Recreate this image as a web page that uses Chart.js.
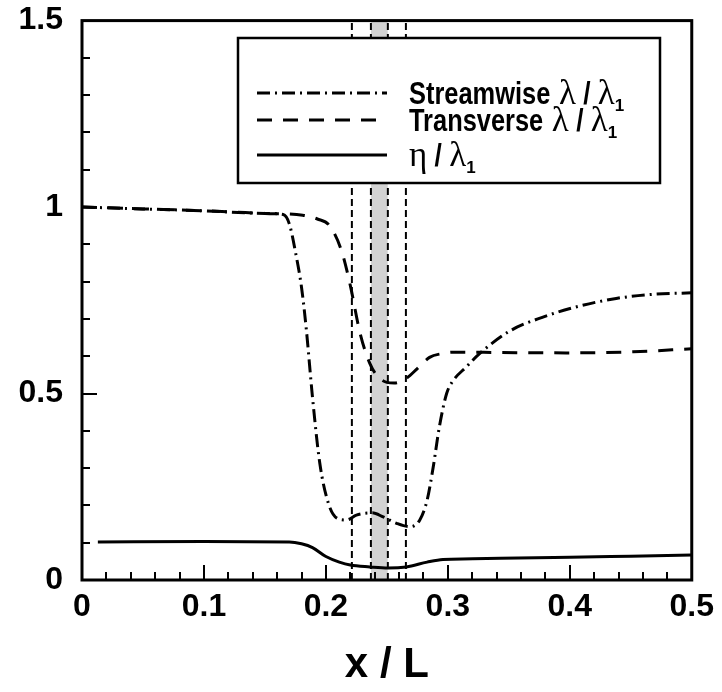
<!DOCTYPE html>
<html>
<head>
<meta charset="utf-8">
<script src="https://cdn.jsdelivr.net/npm/chart.js@4.4.0/dist/chart.umd.min.js"></script>
<style>
  body { margin: 0; background: #fff; }
  #wrap { width: 722px; height: 692px; position: relative; }
</style>
</head>
<body>
<div id="wrap"><canvas id="chart"></canvas></div>
<script>
// streamwise lambda / lambda1 (dash-dot)
const streamX = [0, 0.05, 0.1, 0.15, 0.165, 0.170, 0.175, 0.180, 0.184, 0.189, 0.195, 0.202, 0.209, 0.217, 0.225, 0.238, 0.247, 0.258, 0.269, 0.277, 0.283, 0.288, 0.293, 0.299, 0.304, 0.315, 0.326, 0.351, 0.378, 0.405, 0.438, 0.468, 0.5];
const streamY = [1.0, 0.995, 0.99, 0.983, 0.980, 0.955, 0.88, 0.785, 0.67, 0.49, 0.313, 0.206, 0.166, 0.161, 0.174, 0.180, 0.169, 0.152, 0.143, 0.161, 0.214, 0.303, 0.410, 0.500, 0.533, 0.571, 0.607, 0.668, 0.705, 0.732, 0.755, 0.766, 0.770];

// transverse lambda / lambda1 (dashed)
const transX = [0, 0.05, 0.1, 0.15, 0.181, 0.193, 0.203, 0.213, 0.220, 0.228, 0.236, 0.243, 0.250, 0.256, 0.266, 0.275, 0.285, 0.295, 0.304, 0.343, 0.397, 0.452, 0.5];
const transY = [1.0, 0.995, 0.99, 0.983, 0.978, 0.968, 0.950, 0.881, 0.790, 0.662, 0.581, 0.544, 0.530, 0.528, 0.541, 0.567, 0.597, 0.607, 0.611, 0.610, 0.609, 0.612, 0.620];

// eta / lambda1 (solid)
const etaX = [0.013, 0.1, 0.17, 0.18, 0.189, 0.2, 0.211, 0.22, 0.236, 0.251, 0.266, 0.283, 0.296, 0.343, 0.4, 0.45, 0.5];
const etaY = [0.102, 0.103, 0.102, 0.097, 0.087, 0.063, 0.048, 0.040, 0.035, 0.032, 0.035, 0.048, 0.055, 0.058, 0.061, 0.064, 0.067];

// vertical markers and shaded band
const markerX = [0.2213, 0.2369, 0.2508, 0.2656];
const shadeX = [0.2369, 0.2508];

const xTickVals = [0, 0.1, 0.2, 0.3, 0.4, 0.5];
const xTickLabels = ['0', '0.1', '0.2', '0.3', '0.4', '0.5'];
const yTickVals = [0, 0.5, 1, 1.5];
const yTickLabels = ['0', '0.5', '1', '1.5'];

const toPts = (xs, ys) => xs.map((x, i) => ({x: x, y: ys[i]}));

const SANS = '"Liberation Sans", Arial, sans-serif';
const SERIF = '"Liberation Serif", "Times New Roman", serif';
Chart.defaults.font.family = SANS;
Chart.defaults.color = '#000';

const DASHDOT = [13, 5, 2, 5];
const DASH = [15, 11];

const legendRows = [
  {dash: DASHDOT, y: 93, parts: [
    {t: 'Streamwise', f: 'bold 31px ' + SANS, sx: 0.82},
    {t: ' ', f: 'bold 31px ' + SANS},
    {t: '\u03bb', f: '35px ' + SERIF},
    {t: ' / ', f: 'bold 31px ' + SANS, sx: 0.85},
    {t: '\u03bb', f: '35px ' + SERIF},
    {t: '1', f: 'bold 17px ' + SANS, dy: 7}
  ]},
  {dash: DASH, y: 120, parts: [
    {t: 'Transverse', f: 'bold 31px ' + SANS, sx: 0.82},
    {t: ' ', f: 'bold 31px ' + SANS},
    {t: '\u03bb', f: '35px ' + SERIF},
    {t: ' / ', f: 'bold 31px ' + SANS, sx: 0.85},
    {t: '\u03bb', f: '35px ' + SERIF},
    {t: '1', f: 'bold 17px ' + SANS, dy: 7}
  ]},
  {dash: [], y: 155, parts: [
    {t: '\u03b7', f: '35px ' + SERIF},
    {t: ' / ', f: 'bold 31px ' + SANS, sx: 0.85},
    {t: '\u03bb', f: '35px ' + SERIF},
    {t: '1', f: 'bold 17px ' + SANS, dy: 7}
  ]}
];

const framePlugin = {
  id: 'frame',
  afterDatasetsDraw(chart) {
    const {ctx, chartArea: a, scales: {x, y}} = chart;
    ctx.save();
    ctx.strokeStyle = '#000';
    ctx.lineWidth = 2;
    ctx.setLineDash([]);
    // x ticks, minor every 0.02
    for (let i = 0; i <= 25; i++) {
      const px = Math.round(x.getPixelForValue(i * 0.02));
      const len = i % 5 === 0 ? 15 : 8;
      ctx.beginPath();
      ctx.moveTo(px, a.bottom);
      ctx.lineTo(px, a.bottom - len);
      ctx.stroke();
    }
    // y ticks, minor every 0.1
    for (let i = 0; i <= 15; i++) {
      const py = Math.round(y.getPixelForValue(i * 0.1));
      const len = i % 5 === 0 ? 15 : 8;
      ctx.beginPath();
      ctx.moveTo(a.left, py);
      ctx.lineTo(a.left + len, py);
      ctx.stroke();
    }
    ctx.lineWidth = 3;
    ctx.strokeRect(a.left, a.top, a.right - a.left, a.bottom - a.top);

    // legend box
    const bx = 238, by = 38, bw = 422, bh = 145;
    ctx.fillStyle = '#fff';
    ctx.fillRect(bx, by, bw, bh);
    ctx.lineWidth = 2.5;
    ctx.strokeRect(bx, by, bw, bh);
    legendRows.forEach(row => {
      ctx.lineWidth = 3;
      ctx.setLineDash(row.dash);
      ctx.beginPath();
      ctx.moveTo(257, row.y);
      ctx.lineTo(387, row.y);
      ctx.stroke();
      ctx.setLineDash([]);
      let cx = 409;
      ctx.fillStyle = '#000';
      ctx.textBaseline = 'alphabetic';
      row.parts.forEach(p => {
        ctx.font = p.f;
        const sx = p.sx || 1;
        const w = ctx.measureText(p.t).width * sx;
        ctx.save();
        ctx.translate(cx, row.y + 11 + (p.dy || 0));
        ctx.scale(sx, 1);
        ctx.fillText(p.t, 0, 0);
        ctx.restore();
        cx += w;
      });
    });
    ctx.restore();
  }
};

const datasets = [
  {
    label: 'Streamwise',
    data: toPts(streamX, streamY),
    borderColor: '#000', borderWidth: 3, borderDash: DASHDOT,
    pointRadius: 0, fill: false, cubicInterpolationMode: 'monotone'
  },
  {
    label: 'Transverse',
    data: toPts(transX, transY),
    borderColor: '#000', borderWidth: 3, borderDash: DASH,
    pointRadius: 0, fill: false, cubicInterpolationMode: 'monotone'
  },
  {
    label: 'eta',
    data: toPts(etaX, etaY),
    borderColor: '#000', borderWidth: 3,
    pointRadius: 0, fill: false, cubicInterpolationMode: 'monotone'
  }
];
markerX.forEach(mx => {
  datasets.push({
    label: 'marker',
    data: [{x: mx, y: 0}, {x: mx, y: 1.5}],
    borderColor: '#000', borderWidth: 2, borderDash: [7, 4],
    pointRadius: 0, fill: false
  });
});
datasets.push({
  label: 'band',
  data: [{x: shadeX[0], y: 1.5}, {x: shadeX[1], y: 1.5}],
  borderWidth: 0, borderColor: 'rgba(0,0,0,0)',
  backgroundColor: '#d3d3d3', pointRadius: 0, fill: 'origin'
});

new Chart(document.getElementById('chart'), {
  type: 'line',
  data: {datasets: datasets},
  options: {
    responsive: true,
    maintainAspectRatio: false,
    animation: false,
    layout: {padding: {left: 0, right: 30, top: 20, bottom: 0}},
    plugins: {legend: {display: false}, tooltip: {enabled: false}},
    scales: {
      x: {
        type: 'linear', min: 0, max: 0.5,
        afterFit: s => { s.height = 112; },
        afterBuildTicks: s => { s.ticks = xTickVals.map(v => ({value: v})); },
        grid: {display: false, drawTicks: false},
        border: {display: false},
        ticks: {
          padding: 8, maxRotation: 0, autoSkip: false,
          font: {size: 32, weight: 'bold'},
          callback: (v) => xTickLabels[xTickVals.findIndex(t => Math.abs(t - v) < 1e-6)]
        },
        title: {display: true, text: 'x / L', font: {size: 42, weight: 'bold'}, padding: {top: 0, bottom: 1}}
      },
      y: {
        type: 'linear', min: 0, max: 1.5,
        afterFit: s => { s.width = 82; },
        afterBuildTicks: s => { s.ticks = yTickVals.map(v => ({value: v})); },
        grid: {display: false, drawTicks: false},
        border: {display: false},
        ticks: {
          padding: 19, autoSkip: false,
          font: {size: 32, weight: 'bold', lineHeight: 0.1},
          callback: (v) => yTickLabels[yTickVals.findIndex(t => Math.abs(t - v) < 1e-6)]
        }
      }
    }
  },
  plugins: [framePlugin]
});
</script>
</body>
</html>
